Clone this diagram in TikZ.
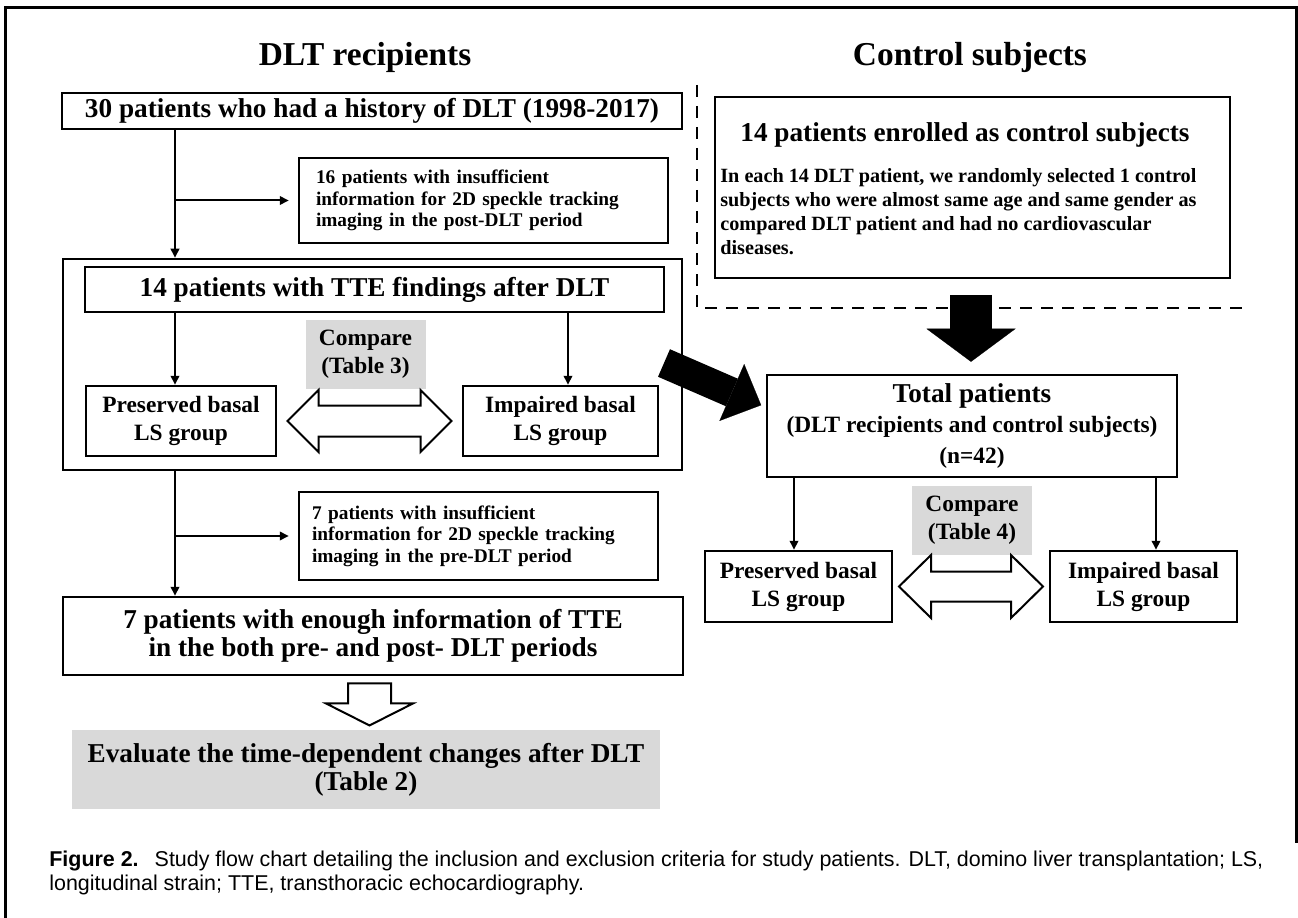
\documentclass[tikz,border=0pt]{standalone}
\usepackage{fontspec}
\setmainfont{Liberation Serif}
\newfontfamily\capfont{Liberation Sans}
\usepackage{xcolor}
\usepackage{tikz}
\usetikzlibrary{arrows.meta,positioning,calc}
\definecolor{cmpgray}{RGB}{217,217,217}

\begin{document}
\begin{tikzpicture}[x=0.2mm, y=-0.2mm,
    every node/.style={align=center, inner sep=0pt},
    ttl/.style={font=\fontsize{19pt}{22pt}\selectfont\bfseries},
    bigtxt/.style={font=\fontsize{15.5pt}{16pt}\selectfont\bfseries},
    midtxt/.style={font=\fontsize{13.3pt}{15.9pt}\selectfont\bfseries},
    smalltxt/.style={font=\fontsize{11pt}{12.3pt}\selectfont\bfseries},
    box/.style={draw, line width=0.5mm},
    cmpbox/.style={fill=cmpgray, midtxt, minimum width=24mm, minimum height=13.8mm},
    flow/.style={line width=0.4mm, -{Triangle[length=1.8mm,width=1.7mm]}},
    hollow/.style={draw, line width=0.4mm, fill=white}]
  \useasboundingbox (0,0) rectangle (1298,918);
  \draw[line width=0.6mm] (5,918) -- (5,8) -- (1296,8) -- (1296,843);

  \node[ttl] (recT) at (365,57) {DLT recipients};
  \node[box, bigtxt, minimum width=124mm, minimum height=7.2mm]
    (hist) at (372,111) {30 patients who had a history of DLT (1998-2017)};
  \node[box, smalltxt, text width=67mm, align=left, inner xsep=3.4mm, minimum height=17mm]
    (lost1) at (483.5,200.5) {16 patients with insufficient\\
    information for 2D speckle tracking\\ imaging in the post-DLT period};
  \node[box, minimum width=123.8mm, minimum height=42.2mm] (grp) at (372.5,364.5) {};
  \node[box, bigtxt, minimum width=115.8mm, minimum height=9mm]
    (tte) at (374.5,289.5) {14 patients with TTE findings after DLT};
  \node[box, midtxt, minimum width=38mm, minimum height=14mm]
    (presL) at (181,421) {Preserved basal\\LS group};
  \node[box, midtxt, minimum width=39mm, minimum height=14mm]
    (impL) at (560.5,421) {Impaired basal\\LS group};
  \node[cmpbox] (cmpL) at (365.5,354.5) {Compare\\(Table 3)};
  \node[box, smalltxt, text width=66.6mm, align=left, inner xsep=2.6mm, minimum height=17.6mm]
    (lost2) at (478.5,536) {7 patients with insufficient\\
    information for 2D speckle tracking\\ imaging in the pre-DLT period};
  \node[box, bigtxt, minimum width=124mm, minimum height=15.6mm]
    (both) at (373,636) {7 patients with enough information of TTE\\
    in the both pre- and post- DLT periods};
  \node[fill=cmpgray, bigtxt, minimum width=117.6mm, minimum height=15.8mm]
    (evalT) at (366,769.5) {Evaluate the time-dependent changes after DLT\\ (Table 2)};

  \node[ttl] (ctlT) at (970,57) {Control subjects};
  \node[box, minimum width=103mm, minimum height=36.2mm] (ctrl) at (972.5,187.5) {};
  \node[bigtxt] (ctrlT) at (965,135) {14 patients enrolled as control subjects};
  \node[font=\fontsize{11.5pt}{13.6pt}\selectfont\bfseries, align=left, anchor=north west]
    (ctrlB) at (720,168) {In each 14 DLT patient, we randomly selected 1 control\\
    subjects who were almost same age and same gender as\\
    compared DLT patient and had no cardiovascular\\ diseases.};
  \node[box, midtxt, minimum width=82mm, minimum height=20.4mm]
    (total) at (972,426) {{\fontsize{15.5pt}{17pt}\selectfont Total patients}\\[1pt]
    (DLT recipients and control subjects)\\[1.5pt] (n=42)};
  \node[box, midtxt, minimum width=37.4mm, minimum height=14.2mm]
    (presR) at (798.5,586.5) {Preserved basal\\LS group};
  \node[box, midtxt, minimum width=37.4mm, minimum height=14.2mm]
    (impR) at (1143.5,586.5) {Impaired basal\\LS group};
  \node[cmpbox] (cmpR) at (972,520.5) {Compare\\(Table 4)};

  \coordinate (dashTop) at (697,85);
  \coordinate (dashEnd) at (1244,308);
  \draw[line width=0.4mm, dash pattern=on 2.4mm off 1.8mm] (dashTop) |- (dashEnd);

  \coordinate (spine) at (175,0);
  \draw[flow] (hist.south -| spine) -- (grp.north -| spine);
  \draw[flow, shorten >=1.8mm] (lost1.west -| spine) -- (lost1.west);
  \draw[flow] (tte.south -| spine) -- (presL.north -| spine);
  \draw[flow] ([xshift=1.5mm]impL.north |- tte.south) -- ([xshift=1.5mm]impL.north);
  \draw[flow] (grp.south -| spine) -- (both.north -| spine);
  \draw[flow, shorten >=1.8mm] (lost2.west -| spine) -- (lost2.west);
  \draw[flow] ([xshift=-0.9mm]presR.north |- total.south) -- ([xshift=-0.9mm]presR.north);
  \draw[flow] ([xshift=2.5mm]impR.north |- total.south) -- ([xshift=2.5mm]impR.north);

  \coordinate (dtail) at (664,363);
  \draw[line width=6mm, -{Triangle[length=6.4mm,width=12.4mm,line width=0.1pt]}, shorten >=1mm]
    (dtail) -- ($(total.north west)!0.32!(total.south west)$);
  \coordinate (ctail) at (971,295);
  \draw[line width=8.4mm, -{Triangle[length=6.6mm,width=17.8mm,line width=0.1pt]}, shorten >=2.4mm]
    (ctail) -- (ctail |- total.north);

  \coordinate (dblL) at ($(presL.east)!.5!(impL.west)$);
  \draw[hollow, shift={(dblL)}] (-82,0) -- (-51,-31) -- (-51,-15.5) -- (51,-15.5) -- (51,-31)
    -- (82,0) -- (51,31) -- (51,15.5) -- (-51,15.5) -- (-51,31) -- cycle;
  \coordinate (dblR) at ($(presR.east)!.5!(impR.west)$);
  \draw[hollow, shift={(dblR)}] (-72,0) -- (-40,-31.5) -- (-40,-15) -- (40,-15) -- (40,-31.5)
    -- (72,0) -- (40,31.5) -- (40,15) -- (-40,15) -- (-40,31.5) -- cycle;
  \coordinate (downA) at ($(both.south)!.5!(evalT.north)$);
  \draw[hollow, shift={(downA)}] (-21.5,-19.5) -- (21.5,-19.5) -- (21.5,0.5) -- (43.5,0.5)
    -- (0,22.5) -- (-43.5,0.5) -- (-21.5,0.5) -- cycle;

  \node[font=\capfont\fontsize{12.2pt}{13.4pt}\selectfont, align=left, anchor=north west]
    (capt) at (49,851) {{\bfseries Figure 2.}\hspace{3.2mm}Study flow chart detailing the
    inclusion and exclusion criteria for study patients. DLT, domino liver transplantation; LS,\\
    longitudinal strain; TTE, transthoracic echocardiography.};
\end{tikzpicture}
\end{document}
